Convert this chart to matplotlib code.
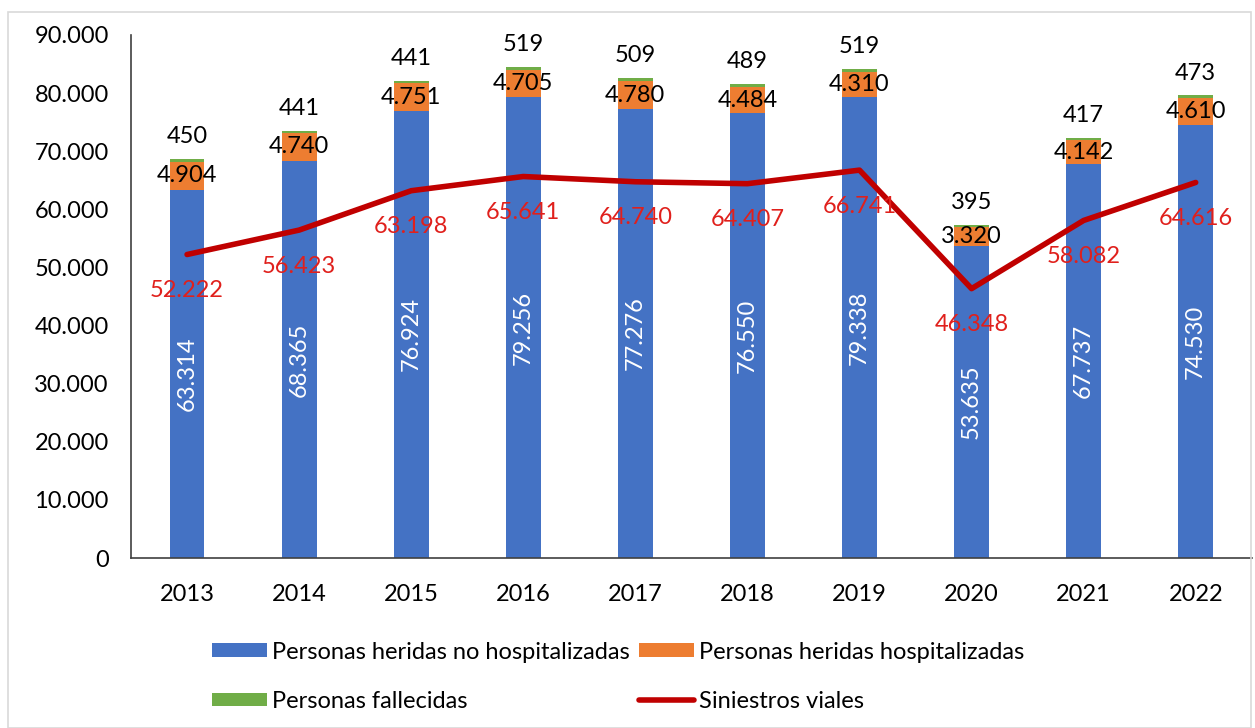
import matplotlib.pyplot as plt
from matplotlib.patches import Rectangle

plt.rcParams['font.family'] = ['Lato', 'DejaVu Sans']

years = ['2013', '2014', '2015', '2016', '2017', '2018', '2019', '2020', '2021', '2022']
no_hosp = [63314, 68365, 76924, 79256, 77276, 76550, 79338, 53635, 67737, 74530]
hosp = [4904, 4740, 4751, 4705, 4780, 4484, 4310, 3320, 4142, 4610]
fallecidas = [450, 441, 441, 519, 509, 489, 519, 395, 417, 473]
siniestros = [52222, 56423, 63198, 65641, 64740, 64407, 66741, 46348, 58082, 64616]

def fmt(v):
    return f'{v:,}'.replace(',', '.')

fs = 17

fig = plt.figure(figsize=(12.55, 7.28), dpi=100)
ax = fig.add_axes([0.1044, 0.2335, 0.893, 0.7185])

x = range(len(years))
w = 0.31
ax.bar(x, no_hosp, w, color='#4472C4', label='Personas heridas no hospitalizadas')
ax.bar(x, hosp, w, bottom=no_hosp, color='#ED7D31', label='Personas heridas hospitalizadas')
bottom2 = [a + b for a, b in zip(no_hosp, hosp)]
ax.bar(x, fallecidas, w, bottom=bottom2, color='#70AD47', label='Personas fallecidas')
ax.plot(x, siniestros, color='#C00000', lw=4, solid_capstyle='round', label='Siniestros viales')

for i in x:
    ax.text(i, no_hosp[i] / 2, fmt(no_hosp[i]), rotation=90, ha='center', va='center',
            color='white', fontsize=fs)
    ax.text(i, no_hosp[i] + hosp[i] / 2, fmt(hosp[i]), ha='center', va='center',
            color='black', fontsize=fs)
    ax.annotate(fmt(fallecidas[i]), (i, bottom2[i] + fallecidas[i]), xytext=(0, 16),
                textcoords='offset points', ha='center', va='center',
                color='black', fontsize=fs)
    ax.annotate(fmt(siniestros[i]), (i, siniestros[i]), xytext=(0, -26),
                textcoords='offset points', ha='center', va='center',
                color='#E0201C', fontsize=fs)

ax.set_xlim(-0.5, 9.5)
ax.set_ylim(0, 90000)
ax.set_yticks(range(0, 90001, 10000))
ax.set_yticklabels([fmt(v) for v in range(0, 90001, 10000)], fontsize=fs)
ax.set_xticks(list(x))
ax.set_xticklabels(years, fontsize=fs)
ax.tick_params(axis='y', length=0, pad=16)
ax.tick_params(axis='x', length=0, pad=19)
for s in ['top', 'right']:
    ax.spines[s].set_visible(False)
for s in ['left', 'bottom']:
    ax.spines[s].set_color('#404040')
    ax.spines[s].set_linewidth(1.2)

handles, labels = ax.get_legend_handles_labels()
# column-major fill: blue, green | orange, line
order = [1, 3, 2, 0]
h = [handles[i] for i in order]
l = [labels[i] for i in order]
fig.legend(h, l, loc='upper left', bbox_to_anchor=(0.1516, 0.148), ncol=2,
           frameon=False, fontsize=fs, handlelength=2.35, handleheight=0.5,
           handletextpad=0.2, columnspacing=0.4, labelspacing=1.2)

fig.patches.append(Rectangle((8 / 1255, 0), 1 - 12 / 1255, 1 - 12 / 728,
                             transform=fig.transFigure, fill=False,
                             edgecolor='#D9D9D9', lw=1.2))

fig.savefig('out.png', dpi=100)
